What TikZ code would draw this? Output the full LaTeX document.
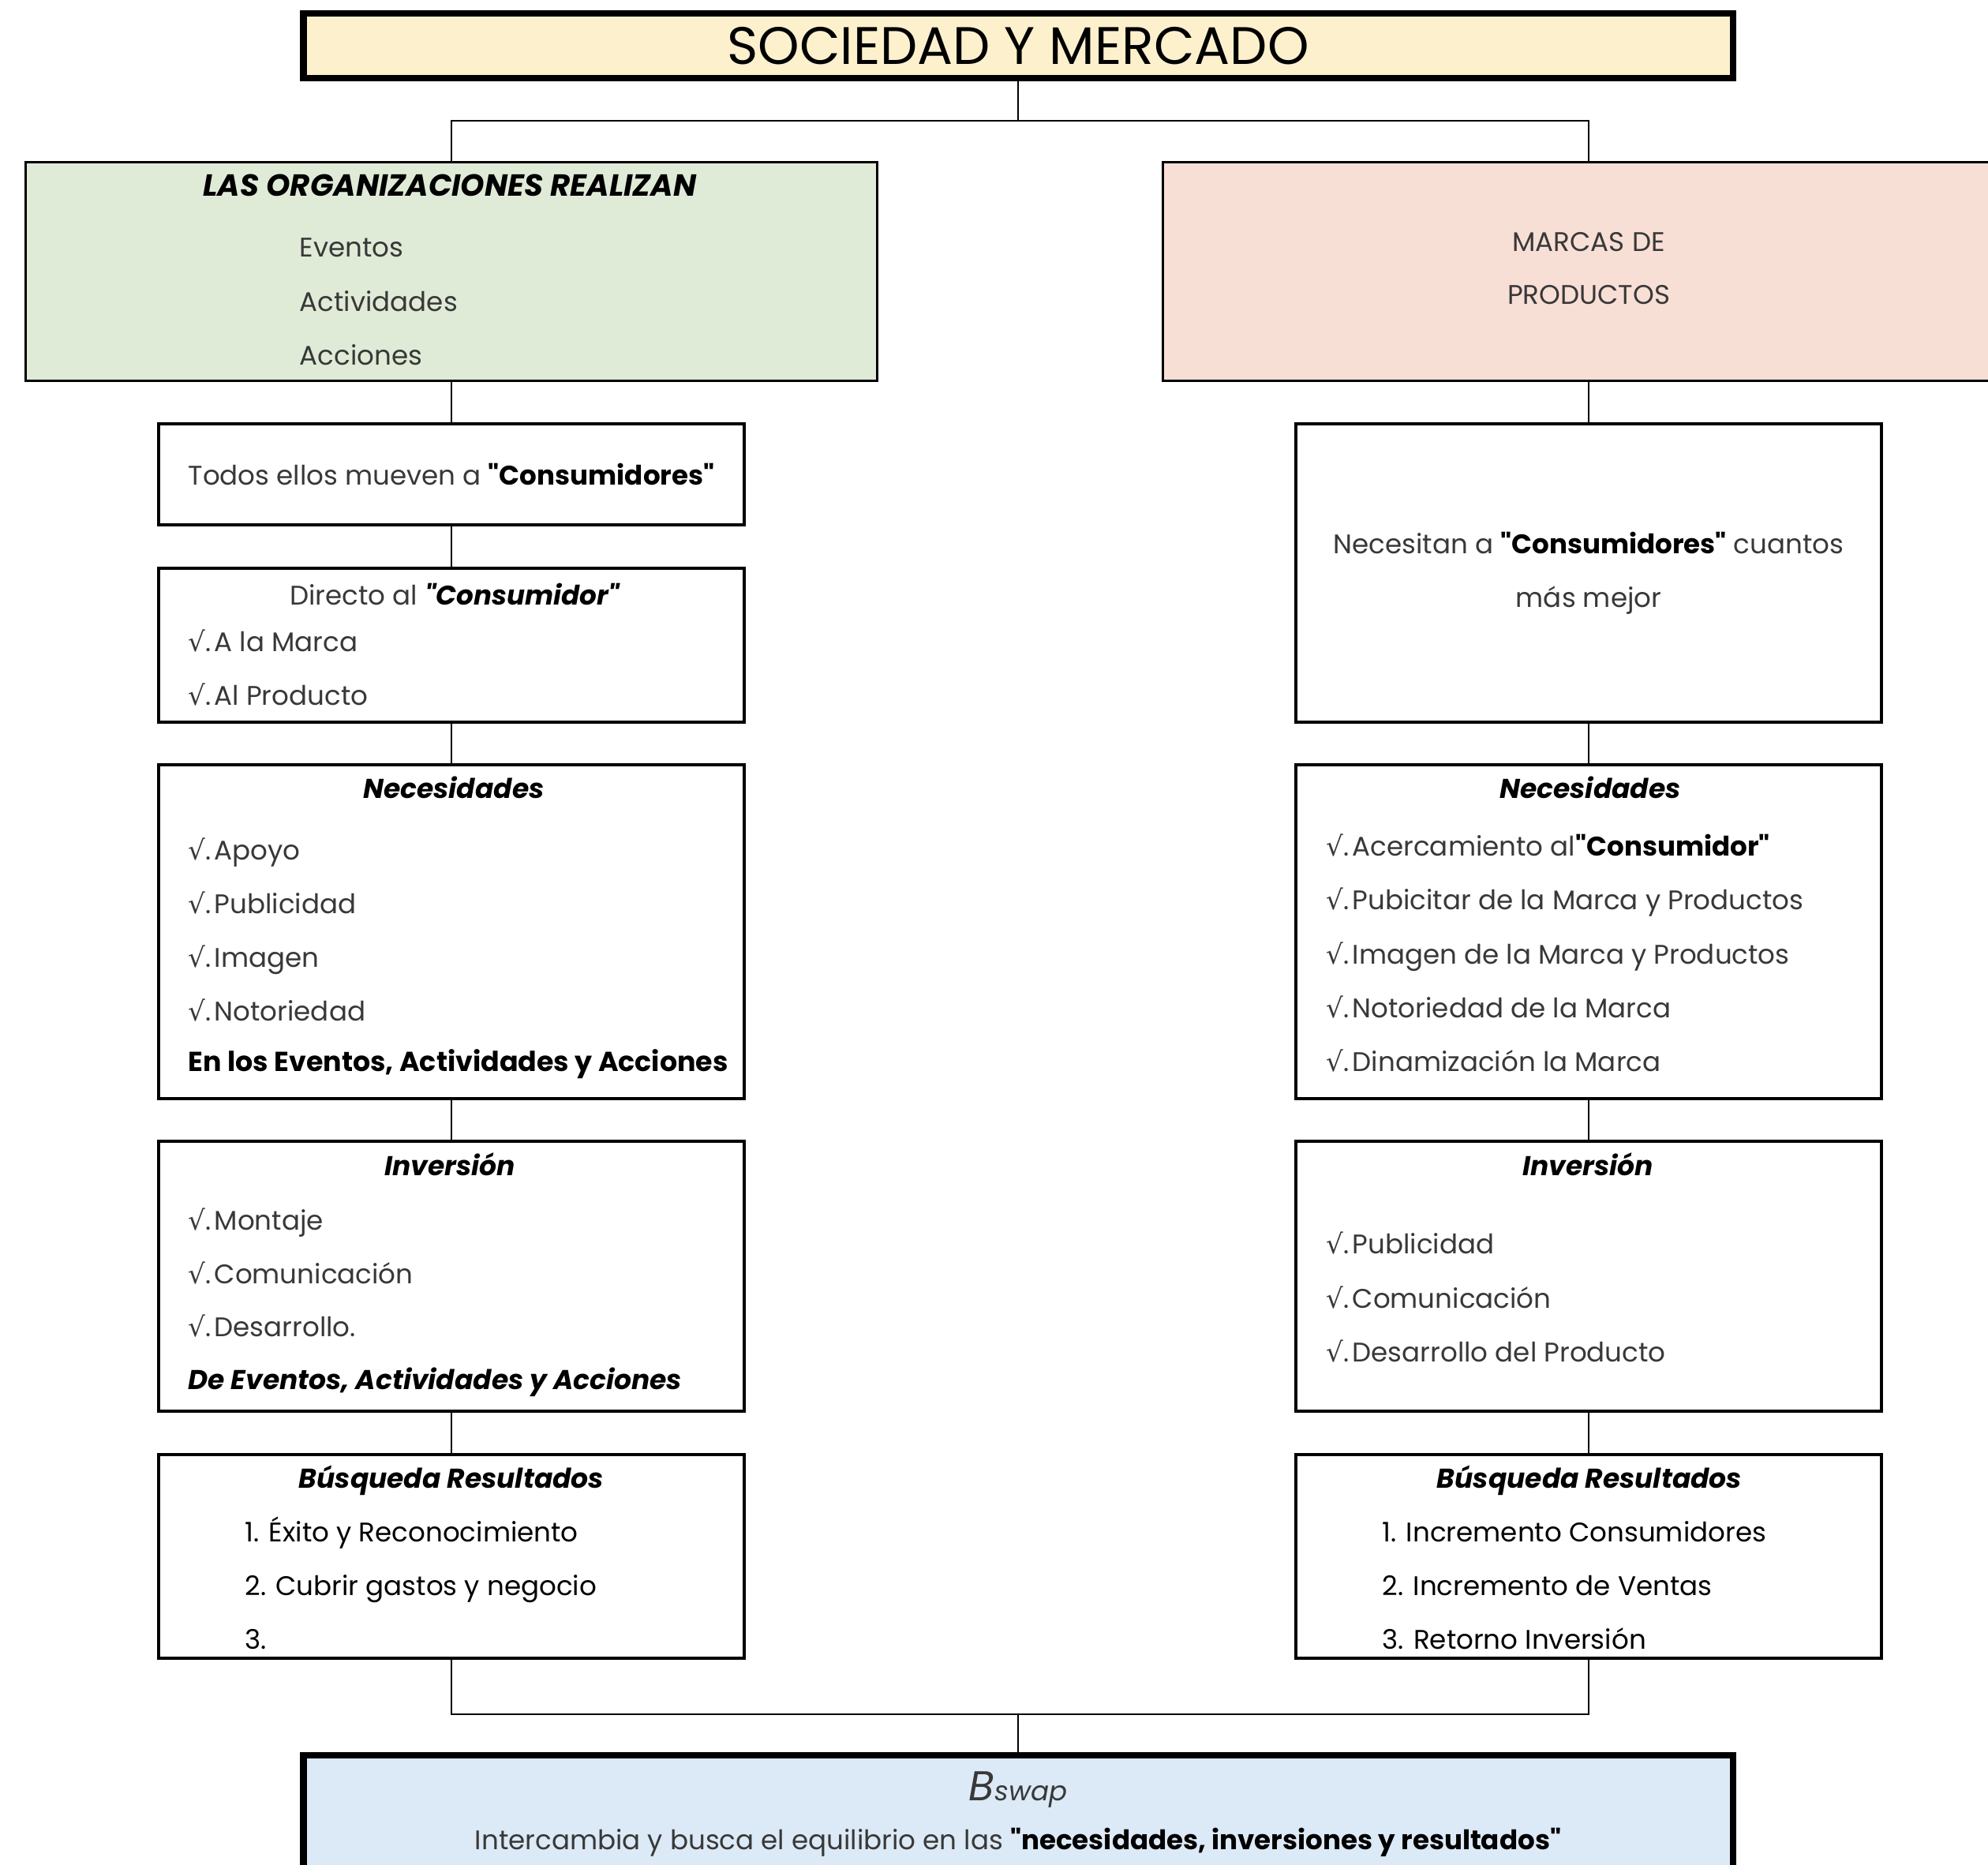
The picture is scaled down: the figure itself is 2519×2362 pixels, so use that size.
\documentclass[tikz,border=0pt]{standalone}
\usepackage{fontspec}
\setmainfont{Poppins}[Ligatures=TeXOff]
\newfontfamily\symf{DejaVu Sans}

\definecolor{amarillo}{HTML}{FCF1CC}
\definecolor{verde}{HTML}{E0EBD7}
\definecolor{rosa}{HTML}{F8DFD6}
\definecolor{azul}{HTML}{DCE9F6}
\definecolor{gris}{HTML}{383838}

\newcommand{\chk}{{\symf\char"221A}.\hspace{0.12em}}
\newcommand{\resal}[1]{\textcolor{black}{\bfseries #1}}

\tikzset{
  caja/.style={draw, line width=1.1pt, minimum width=7.42cm, inner sep=0pt},
  bloque/.style={draw, line width=1pt, minimum width=10.78cm, minimum height=2.77cm},
  cabeza/.style={draw, line width=2.3pt, minimum width=18.10cm, inner sep=0pt},
  union/.style={line width=0.6pt},
  txt/.style={font=\fontsize{9.7}{19.2}\selectfont, text=gris, inner sep=0pt},
  item/.style={txt, anchor=mid west},
  enc/.style={font=\fontsize{9.8}{19.2}\selectfont\bfseries\itshape, inner sep=0pt, anchor=mid},
}

\begin{document}
\begin{tikzpicture}[x=0.01cm, y=-0.01cm]
\useasboundingbox (0,0) rectangle (2519,2362);
\clip (0,0) rectangle (2519,2362);

%Title
\node[cabeza, fill=amarillo, minimum height=0.82cm] (soc) at (1290,58) {\fontsize{19}{19}\selectfont SOCIEDAD Y MERCADO};

%Top blocks
\node[bloque, fill=verde] (org) at (572,344) {};
\node[bloque, fill=rosa] (mar) at (2013,344) {};
\node[enc, font=\fontsize{11}{12}\selectfont\bfseries\itshape] (orgt) at (570,239) {LAS ORGANIZACIONES REALIZAN};
\foreach \etiq [count=\i] in {Eventos, Actividades, Acciones}
  \node[item] (org\i) at (379,{316+68.5*(\i-1)}) {\etiq};
\node[txt, align=center] (mart) at (2013,340) {MARCAS DE\\PRODUCTOS};

%Top connectors
\coordinate (rama) at (1290,153);
\draw[union] (soc) -- (rama);
\draw[union] (org) |- (rama) -| (mar);

%Left column
\node[caja, txt, minimum height=1.28cm] (l1) at (572,601) {Todos ellos mueven a \resal{"Consumidores"}};

\node[caja, minimum height=1.95cm] (l2) at (572,817.5) {};
\node[txt] (l2t) at (576,753) {Directo al \resal{\itshape"Consumidor"}};
\foreach \etiq [count=\i] in {A la Marca, Al Producto}
  \node[item] (l2\i) at (238,{816+68*(\i-1)}) {\chk\etiq};

\node[caja, minimum height=4.23cm] (l3) at (572,1180.5) {};
\node[enc] (l3t) at (575,1002) {Necesidades};
\foreach \etiq [count=\i] in {Apoyo, Publicidad, Imagen, Notoriedad}
  \node[item] (l3\i) at (238,{1080+68*(\i-1)}) {\chk\etiq};
\node[item, text=black, font=\fontsize{9.9}{19.2}\selectfont\bfseries] (l3p) at (238,1348) {En los Eventos, Actividades y Acciones};

\node[caja, minimum height=3.42cm] (l4) at (572,1617) {};
\node[enc] (l4t) at (570,1480) {Inversión};
\foreach \etiq [count=\i] in {Montaje, Comunicación, Desarrollo.}
  \node[item] (l4\i) at (238,{1549+67.5*(\i-1)}) {\chk\etiq};
\node[item, text=black, font=\fontsize{9.8}{19.2}\selectfont\bfseries\itshape] (l4p) at (238,1751) {De Eventos, Actividades y Acciones};

\node[caja, minimum height=2.58cm] (l5) at (572,1972) {};
\node[enc] (l5t) at (572,1876) {Búsqueda Resultados};
\foreach \etiq [count=\i] in {1. Éxito y Reconocimiento, 2. Cubrir gastos y negocio, 3.}
  \node[item, text=black] (l5\i) at (310,{1944+68*(\i-1)}) {\etiq};

%Right column
\node[caja, txt, align=center, minimum height=3.78cm] (r1) at (2013,726) {Necesitan a \resal{"Consumidores"} cuantos\\más mejor};

\node[caja, minimum height=4.23cm] (r2) at (2013,1180.5) {};
\node[enc] (r2t) at (2015,1002) {Necesidades};
\foreach \etiq [count=\i] in {Acercamiento al\resal{"Consumidor"}, Pubicitar de la Marca y Productos, Imagen de la Marca y Productos, Notoriedad de la Marca, Dinamización la Marca}
  \node[item] (r2\i) at (1680,{1075+68.2*(\i-1)}) {\chk\etiq};

\node[caja, minimum height=3.42cm] (r3) at (2013,1617) {};
\node[enc] (r3t) at (2012,1480) {Inversión};
\foreach \etiq [count=\i] in {Publicidad, Comunicación, Desarrollo del Producto}
  \node[item] (r3\i) at (1680,{1579+68.5*(\i-1)}) {\chk\etiq};

\node[caja, minimum height=2.58cm] (r4) at (2013,1972) {};
\node[enc] (r4t) at (2014,1876) {Búsqueda Resultados};
\foreach \etiq [count=\i] in {1. Incremento Consumidores, 2. Incremento de Ventas, 3. Retorno Inversión}
  \node[item, text=black] (r4\i) at (1751,{1944+68*(\i-1)}) {\etiq};

%Column connectors
\foreach \a/\b in {org/l1, l1/l2, l2/l3, l3/l4, l4/l5, mar/r1, r1/r2, r2/r3, r3/r4}
  \draw[union] (\a) -- (\b);

%Bottom block
\node[cabeza, fill=azul, minimum height=2.6cm] (bsw) at (1290,2354) {};
\node[txt] (bswt) at (1290,2267) {\itshape{\fontsize{15}{15}\selectfont B}swap};
\node[txt] (bswd) at (1290,2334) {Intercambia y busca el equilibrio en las \resal{"necesidades, inversiones y resultados"}};

%Bottom connectors
\coordinate (junta) at (1290,2172);
\draw[union] (l5) |- (junta) -| (r4);
\draw[union] (junta) -- (bsw);
\end{tikzpicture}
\end{document}
